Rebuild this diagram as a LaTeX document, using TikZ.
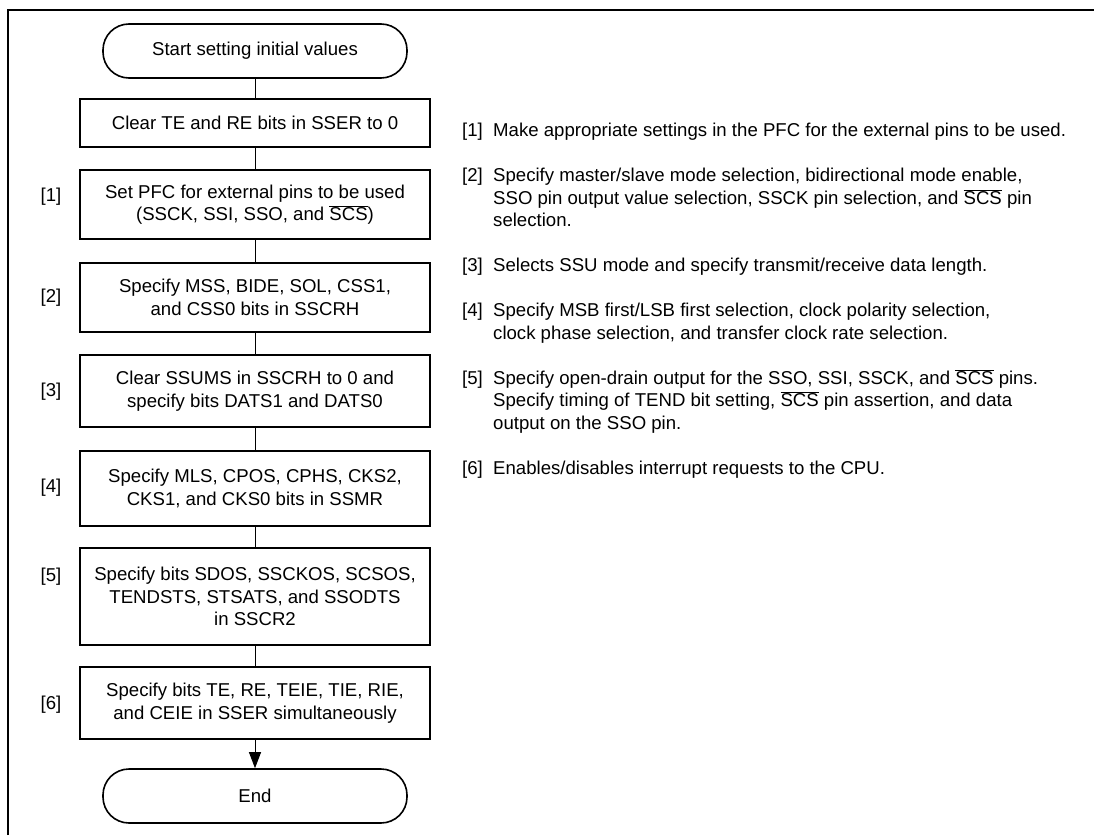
\documentclass[tikz,border=0pt]{standalone}
\usepackage{fontspec}
\setmainfont{Liberation Sans}
\usetikzlibrary{arrows.meta}
\newcommand\ovl[1]{$\overline{\hbox{#1}}$}
\begin{document}
\begin{tikzpicture}[x=1pt,y=-1pt,
  every node/.style={font=\fontsize{18.6}{22.5}\selectfont},
  term/.style={draw, line width=1.6pt, rounded corners=26pt, minimum width=304pt, minimum height=54pt, inner sep=0pt},
  stepbox/.style={draw, line width=1.8pt, minimum width=350pt, align=center, inner sep=0pt},
  conn/.style={line width=0.9pt},
  lab/.style={inner sep=0pt},
  para/.style={anchor=north west, inner sep=0pt, align=left}]
\useasboundingbox (0,0) rectangle (1094,835);
\draw[line width=2pt] (8,835) -- (8,10) -- (1094,10);

\node[term] (start) at (255,51) {Start setting initial values};
\node[stepbox, minimum height=48pt] (b0) at (255,123) {Clear TE and RE bits in SSER to 0};
\node[stepbox, minimum height=69pt] (b1) at (255,204.5) {Set PFC for external pins to be used\\(SSCK, SSI, SSO, and \ovl{SCS})};
\node[stepbox, minimum height=69pt] (b2) at (255,297.5) {Specify MSS, BIDE, SOL, CSS1,\\and CSS0 bits in SSCRH};
\node[stepbox, minimum height=72pt] (b3) at (255,391) {Clear SSUMS in SSCRH to 0 and\\specify bits DATS1 and DATS0};
\node[stepbox, minimum height=75pt] (b4) at (255,488.5) {Specify MLS, CPOS, CPHS, CKS2,\\CKS1, and CKS0 bits in SSMR};
\node[stepbox, minimum height=97pt] (b5) at (255,596.5) {Specify bits SDOS, SSCKOS, SCSOS,\\TENDSTS, STSATS, and SSODTS\\in SSCR2};
\node[stepbox, minimum height=72pt] (b6) at (255,703) {Specify bits TE, RE, TEIE, TIE, RIE,\\and CEIE in SSER simultaneously};
\node[term] (end) at (255,796) {End};

\node[lab] (l1) at (51,197) {[1]};
\node[lab] (l2) at (51,298) {[2]};
\node[lab] (l3) at (51,392) {[3]};
\node[lab] (l4) at (51,488) {[4]};
\node[lab] (l5) at (51,577) {[5]};
\node[lab] (l6) at (51,705) {[6]};

\draw[conn] (start) -- (b0);
\draw[conn] (b0) -- (b1);
\draw[conn] (b1) -- (b2);
\draw[conn] (b2) -- (b3);
\draw[conn] (b3) -- (b4);
\draw[conn] (b4) -- (b5);
\draw[conn] (b5) -- (b6);
\draw[conn, -{Triangle[length=16pt, width=12pt]}] (b6) -- (end);

\node[para] (r1) at (462,121) {\strut[1]};
\node[para] (t1) at (493,121) {\strut Make appropriate settings in the PFC for the external pins to be used.};
\node[para] (r2) at (462,166) {\strut[2]};
\node[para] (t2) at (493,166) {\strut Specify master/slave mode selection, bidirectional mode enable,\\SSO pin output value selection, SSCK pin selection, and \ovl{SCS} pin\\selection.};
\node[para] (r3) at (462,256) {\strut[3]};
\node[para] (t3) at (493,256) {\strut Selects SSU mode and specify transmit/receive data length.};
\node[para] (r4) at (462,301) {\strut[4]};
\node[para] (t4) at (493,301) {\strut Specify MSB first/LSB first selection, clock polarity selection,\\clock phase selection, and transfer clock rate selection.};
\node[para] (r5) at (462,368.5) {\strut[5]};
\node[para] (t5) at (493,368.5) {\strut Specify open-drain output for the SSO, SSI, SSCK, and \ovl{SCS} pins.\\Specify timing of TEND bit setting, \ovl{SCS} pin assertion, and data\\output on the SSO pin.};
\node[para] (r6) at (462,458.5) {\strut[6]};
\node[para] (t6) at (493,458.5) {\strut Enables/disables interrupt requests to the CPU.};
\end{tikzpicture}
\end{document}
